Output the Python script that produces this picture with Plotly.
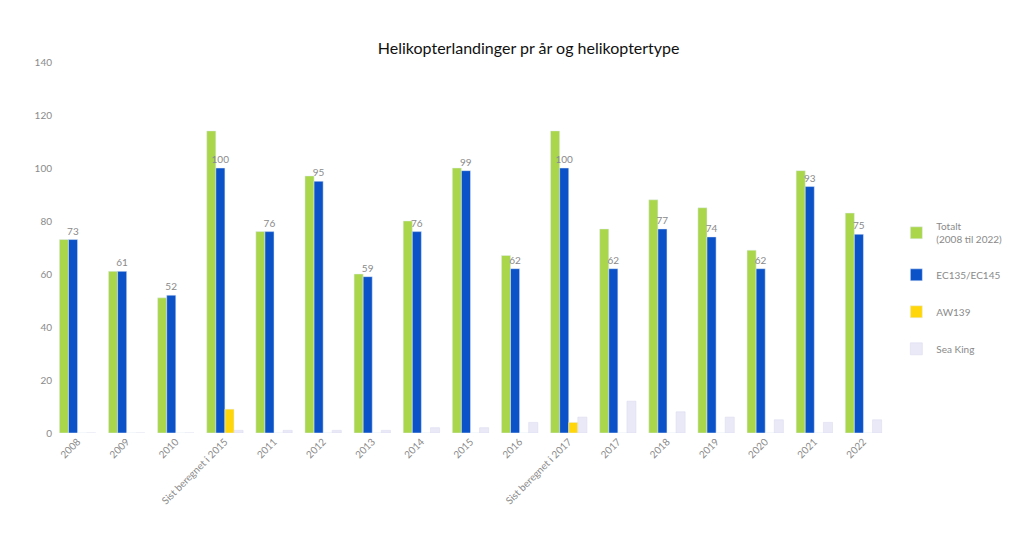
import plotly.graph_objects as go

categories = ["2008", "2009", "2010", "Sist beregnet i 2015", "2011", "2012", "2013", "2014",
              "2015", "2016", "Sist beregnet i 2017", "2017", "2018", "2019", "2020", "2021", "2022"]
totalt = [73, 61, 51, 114, 76, 97, 60, 80, 100, 67, 114, 77, 88, 85, 69, 99, 83]
ec135 = [73, 61, 52, 100, 76, 95, 59, 76, 99, 62, 100, 62, 77, 74, 62, 93, 75]
aw139 = [0, 0, 0, 9, 0, 0, 0, 0, 0, 0, 4, 0, 0, 0, 0, 0, 0]
seaking = [0, 0, 0, 1, 1, 1, 1, 2, 2, 4, 6, 12, 8, 6, 5, 4, 5]
y_ticks = [0, 20, 40, 60, 80, 100, 120, 140]

fig = go.Figure()
fig.add_trace(go.Bar(x=categories, y=totalt, name="Totalt<br>(2008 til 2022)",
                     marker_color="#a9d64a", legendgroup="a"))
fig.add_trace(go.Bar(x=categories, y=ec135, name="EC135/EC145",
                     marker_color="#0b52c9", legendgroup="b",
                     text=ec135, textposition="outside", cliponaxis=False,
                     constraintext="none",
                     textfont=dict(color="#8a8a8a", size=10)))
fig.add_trace(go.Bar(x=categories, y=aw139, name="AW139",
                     marker_color="#ffd60a", legendgroup="c"))
fig.add_trace(go.Bar(x=categories, y=seaking, name="Sea King",
                     marker=dict(color="#e9e9f7", line=dict(color="#d8d8ee", width=0.5)),
                     legendgroup="d"))

fig.update_layout(
    width=1011, height=539,
    margin=dict(l=45, r=121, t=54, b=114),
    paper_bgcolor="white", plot_bgcolor="white",
    barmode="group", bargap=0.26, bargroupgap=0.0,
    font=dict(family="Lato, sans-serif", color="#8a8a8a"),
    title=dict(text="Helikopterlandinger pr år og helikoptertype", x=0.515, y=0.925,
               xanchor="center", yanchor="middle",
               font=dict(size=16, color="#111111", family="Lato, sans-serif")),
    legend=dict(x=1.01, y=0.39, xanchor="left", yanchor="middle",
                tracegroupgap=18, font=dict(size=10, color="#8a8a8a")),
    showlegend=True,
)
fig.update_xaxes(tickangle=-45, tickfont=dict(size=10, color="#8a8a8a"),
                 showline=False, showgrid=False, ticks="")
fig.update_yaxes(range=[0, 140], tickvals=y_ticks, showgrid=False, zeroline=False,
                 showline=False, tickfont=dict(size=10, color="#8a8a8a"), ticks="")

fig.write_html("out.html")
